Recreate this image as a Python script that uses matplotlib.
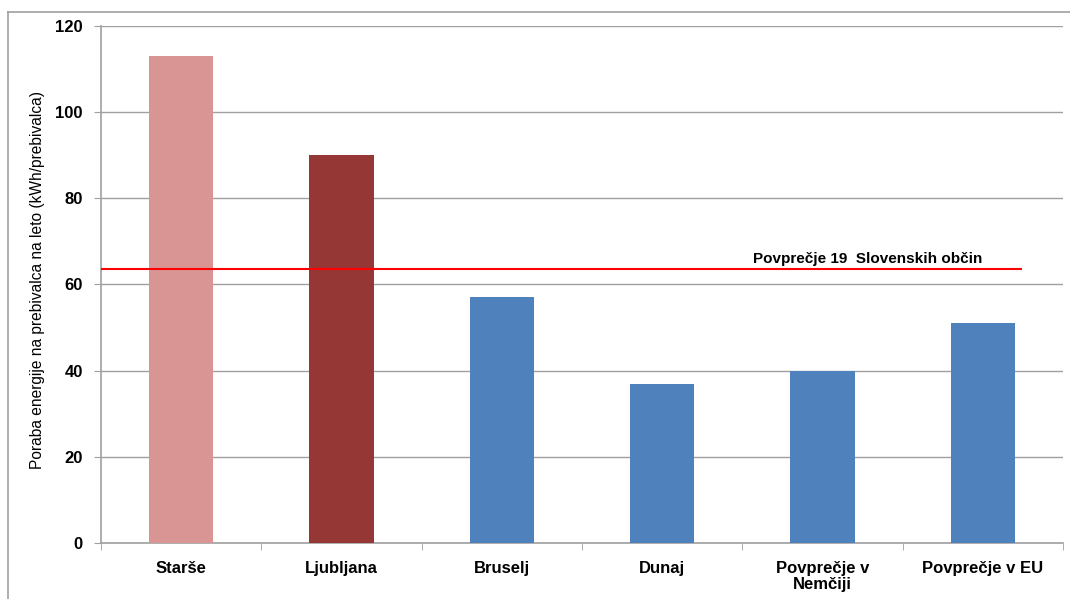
import matplotlib.pyplot as plt
from matplotlib.lines import Line2D

categories = ["Starše", "Ljubljana", "Bruselj", "Dunaj", "Povprečje v\nNemčiji", "Povprečje v EU"]
values = [113, 90, 57, 37, 40, 51]
bar_colors = ["#D99594", "#953735", "#4F81BD", "#4F81BD", "#4F81BD", "#4F81BD"]
avg_value = 63.5
avg_label = "Povprečje 19  Slovenskih občin"
y_ticks = [0, 20, 40, 60, 80, 100, 120]
y_label = "Poraba energije na prebivalca na leto (kWh/prebivalca)"

plt.rcParams["font.family"] = ["Liberation Sans", "DejaVu Sans"]

fig = plt.figure(figsize=(10.70, 5.99), dpi=100)
ax = fig.add_axes([0.0944, 0.0935, 0.8991, 0.8631])

x = list(range(len(categories)))
ax.bar(x, values, width=0.4, color=bar_colors, zorder=3)

# average line across most of the plot
ax.plot([-0.5, 5.24], [avg_value, avg_value], color="#FF0000", lw=1.5, zorder=4)
ax.text(4.28, avg_value + 0.9, avg_label, ha="center", va="bottom",
        fontsize=11, fontweight="bold", zorder=5)

ax.set_xlim(-0.5, len(categories) - 0.5)
ax.set_ylim(0, 120)
ax.set_yticks(y_ticks)
ax.set_yticklabels([str(v) for v in y_ticks], fontsize=12, fontweight="bold")
ax.set_xticks(x)
ax.set_xticklabels(categories, fontsize=12, fontweight="bold", linespacing=1.1)
ax.set_xticks([i - 0.5 for i in range(len(categories) + 1)], minor=True)
ax.tick_params(axis="x", which="major", length=0, pad=13)
ax.tick_params(axis="x", which="minor", length=5, color="#A0A0A0", direction="out")
ax.tick_params(axis="y", length=5, color="#A0A0A0", direction="out", pad=8)

ax.grid(axis="y", color="#A0A0A0", lw=1, zorder=0)
for s in ["top", "right"]:
    ax.spines[s].set_visible(False)
for s in ["left", "bottom"]:
    ax.spines[s].set_color("#A0A0A0")
    ax.spines[s].set_linewidth(1.2)

fig.text(0.0355, 0.5325, y_label, rotation=90, ha="center", va="center", fontsize=11.2)

# outer chart frame (left and top edges visible)
fig.add_artist(Line2D([0.0075, 0.0075], [0.0, 0.98], color="#A0A0A0", lw=1.2))
fig.add_artist(Line2D([0.0075, 1.0], [0.98, 0.98], color="#A0A0A0", lw=1.2))

fig.savefig("out.png", dpi=100, facecolor="white")
